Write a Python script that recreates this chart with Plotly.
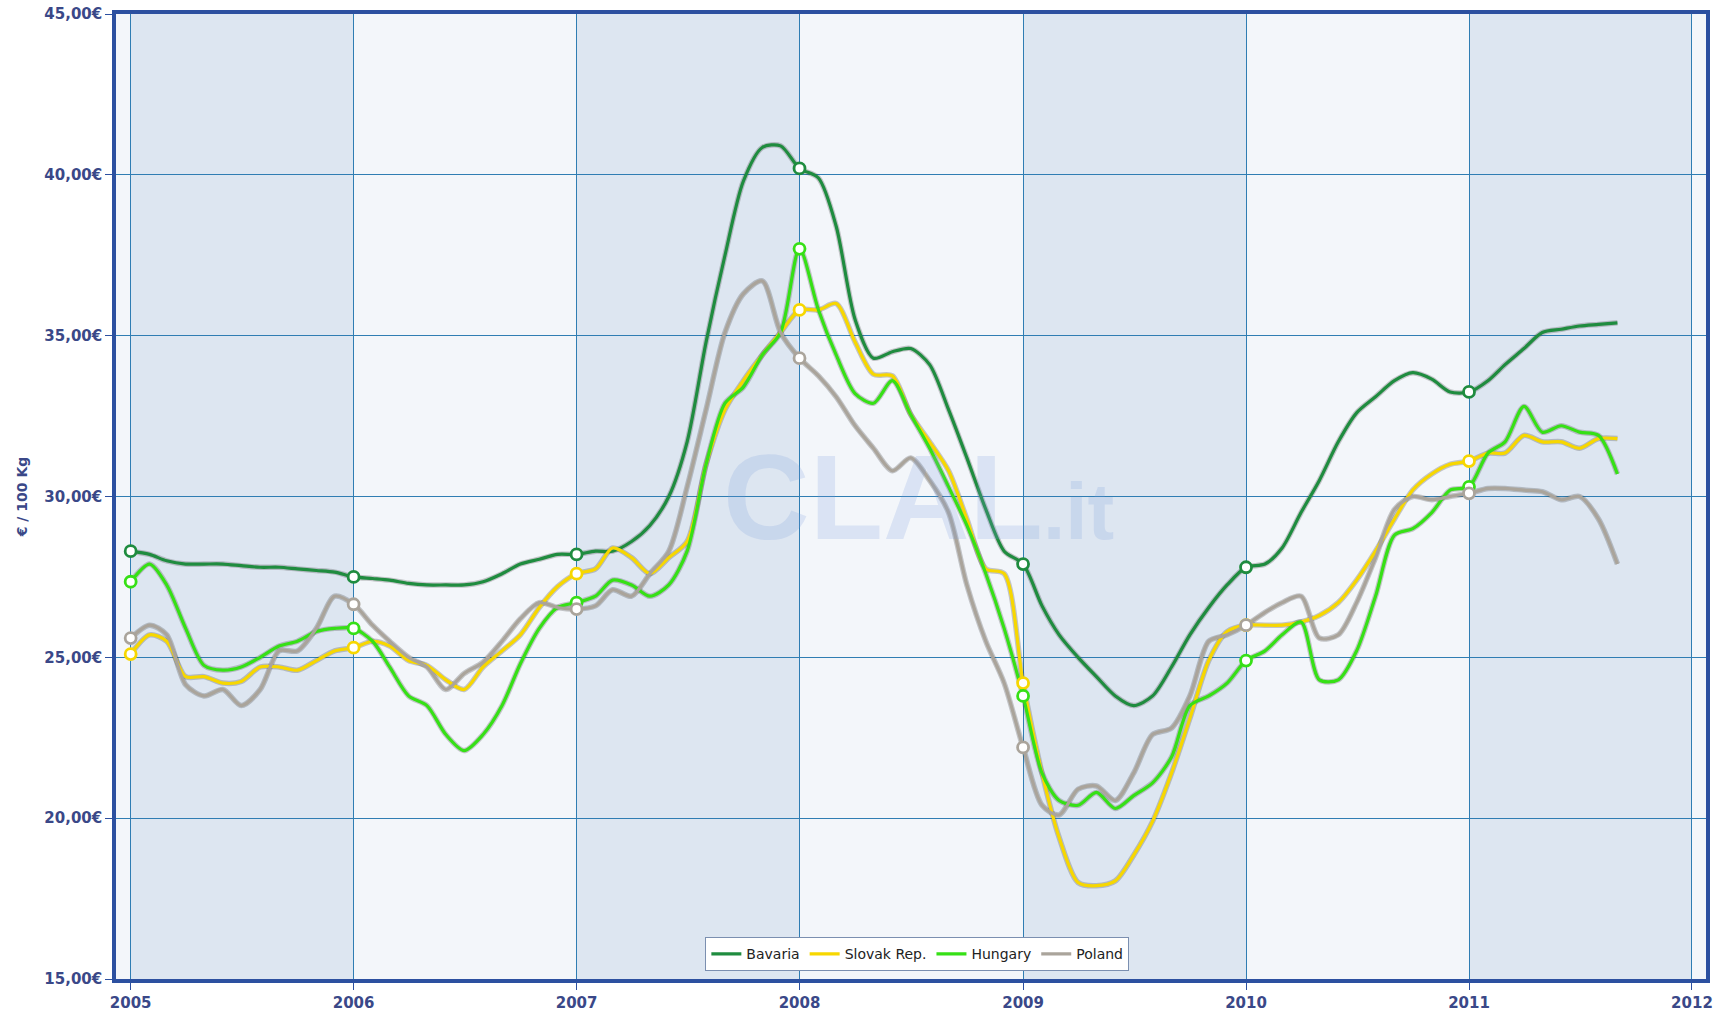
import pandas as pd
import plotly.graph_objects as go

# ---------------- data (monthly, Jan 2005 - Sep 2011) ----------------
series_names = ["Bavaria", "Slovak Rep.", "Hungary", "Poland"]

bavaria = [
    28.3, 28.2, 28.0, 27.9, 27.9, 27.9, 27.85, 27.8, 27.8, 27.75, 27.7, 27.65,
    27.5, 27.45, 27.4, 27.3, 27.25, 27.25, 27.25, 27.35, 27.6, 27.9, 28.05, 28.2,
    28.2, 28.3, 28.3, 28.6, 29.1, 30.0, 31.7, 34.8, 37.5, 39.8, 40.85, 40.9,
    40.2, 39.9, 38.4, 35.5, 34.3, 34.5, 34.6, 34.1, 32.7, 31.2, 29.6, 28.3,
    27.9, 26.6, 25.7, 25.0, 24.4, 23.8, 23.5, 23.8, 24.7, 25.7, 26.55, 27.25,
    27.8, 27.9, 28.4, 29.5, 30.5, 31.7, 32.6, 33.1, 33.6, 33.85, 33.65, 33.25,
    33.25, 33.6, 34.1, 34.6, 35.1, 35.2, 35.3, 35.35, 35.4,
]
slovak = [
    25.1, 25.7, 25.5, 24.4, 24.4, 24.2, 24.25, 24.7, 24.7, 24.6, 24.9, 25.2,
    25.3, 25.5, 25.35, 24.9, 24.75, 24.3, 24.0, 24.7, 25.2, 25.7, 26.55, 27.2,
    27.6, 27.75, 28.4, 28.1, 27.6, 28.1, 28.6, 31.0, 32.7, 33.6, 34.4, 35.1,
    35.8, 35.8, 36.0, 34.8, 33.8, 33.75, 32.55, 31.7, 30.8, 29.3, 27.75, 27.6,
    24.2, 21.4, 19.4, 18.0, 17.9, 18.05, 18.85, 19.9, 21.4, 23.1, 24.9, 25.8,
    26.0, 26.0, 26.0, 26.1, 26.3, 26.7, 27.4, 28.3, 29.3, 30.2, 30.7, 31.0,
    31.1, 31.35, 31.35, 31.9, 31.7, 31.7, 31.5, 31.8, 31.8,
]
hungary = [
    27.35, 27.9, 27.25, 25.9, 24.75, 24.6, 24.7, 25.0, 25.35, 25.5, 25.8, 25.9,
    25.9, 25.5, 24.7, 23.8, 23.5, 22.6, 22.1, 22.6, 23.5, 24.8, 25.9, 26.55,
    26.7, 26.9, 27.4, 27.25, 26.9, 27.25, 28.3, 31.0, 32.9, 33.4, 34.4, 35.1,
    37.7, 35.8, 34.4, 33.2, 32.9, 33.6, 32.55, 31.5, 30.3, 29.1, 27.6, 25.9,
    23.8, 21.4, 20.55, 20.4, 20.8, 20.3, 20.7, 21.1, 21.9, 23.5, 23.8, 24.2,
    24.9, 25.2, 25.7, 26.1, 24.3, 24.3, 25.2, 26.9, 28.8, 29.0, 29.5, 30.2,
    30.3, 31.35, 31.7, 32.8, 32.0, 32.2, 32.0, 31.9, 30.7,
]
poland = [
    25.6, 26.0, 25.7, 24.15, 23.8, 24.0, 23.5, 24.0, 25.2, 25.2, 25.9, 26.9,
    26.65, 26.0, 25.5, 25.0, 24.7, 24.0, 24.5, 24.85, 25.5, 26.2, 26.7, 26.55,
    26.5, 26.6, 27.1, 26.9, 27.6, 28.3, 30.3, 32.7, 35.1, 36.3, 36.7, 35.1,
    34.3, 33.75, 33.1, 32.2, 31.5, 30.8, 31.2, 30.5, 29.5, 27.25, 25.5, 24.2,
    22.2, 20.4, 20.1, 20.9, 21.0, 20.55, 21.4, 22.6, 22.8, 23.8, 25.5, 25.7,
    26.0, 26.4, 26.7, 26.9, 25.6, 25.7, 26.7, 28.1, 29.6, 30.0, 29.9, 30.0,
    30.1, 30.25, 30.25, 30.2, 30.15, 29.9, 30.0, 29.3, 27.9,
]

x_years = [2005, 2006, 2007, 2008, 2009, 2010, 2011, 2012]
y_ticks = [15, 20, 25, 30, 35, 40, 45]
y_tick_labels = ["15,00€", "20,00€", "25,00€", "30,00€", "35,00€", "40,00€", "45,00€"]

colors = ["#1f8c3f", "#f7d700", "#36e016", "#aaa49b"]
values = [bavaria, slovak, hungary, poland]

months = pd.date_range("2005-01-01", periods=len(bavaria), freq="MS")

fig = go.Figure()

AXIS_BLUE = "#2c50a0"
GRID = "#2f7db3"
TEXT_BLUE = "#3a4888"

# alternating year bands
for i in range(len(x_years) - 1):
    fill = "#dde6f1" if i % 2 == 0 else "#f3f6fa"
    fig.add_shape(type="rect", xref="x", yref="paper",
                  x0=f"{x_years[i]}-01-01", x1=f"{x_years[i+1]}-01-01",
                  y0=0, y1=1, fillcolor=fill, line_width=0, layer="below")

# line shadows
for vals in values:
    fig.add_trace(go.Scatter(x=months, y=vals, mode="lines",
                             line=dict(color="rgba(70,70,70,0.28)", width=5.5,
                                       shape="spline", smoothing=0.8),
                             hoverinfo="skip", showlegend=False))

# main lines
for name, vals, col in zip(series_names, values, colors):
    fig.add_trace(go.Scatter(x=months, y=vals, mode="lines", name=name,
                             line=dict(color=col, width=3.2,
                                       shape="spline", smoothing=0.8)))

# yearly markers (January values)
for name, vals, col in zip(series_names, values, colors):
    fig.add_trace(go.Scatter(x=months[::12], y=vals[::12], mode="markers",
                             marker=dict(symbol="circle", size=11, color="white",
                                         line=dict(color=col, width=2.8)),
                             showlegend=False, hoverinfo="skip"))

# watermark
fig.add_annotation(text="<b>CLAL</b><span style='font-size:80px'><b>.it</b></span>",
                   xref="paper", yref="paper", x=0.505, y=0.5,
                   showarrow=False,
                   font=dict(family="Liberation Sans", size=120,
                             color="rgba(120,155,220,0.20)"))

fig.update_layout(
    width=1733, height=1013,
    margin=dict(l=116, r=27, t=14, b=34),
    paper_bgcolor="white",
    plot_bgcolor="#f3f6fa",
    showlegend=True,
    legend=dict(orientation="h", x=0.504, xanchor="center", y=0.008, yanchor="bottom",
                bgcolor="white", bordercolor="#7b8fb0", borderwidth=1,
                font=dict(family="DejaVu Sans", size=14, color="#222222"),
                itemwidth=30, tracegroupgap=0),
    xaxis=dict(
        type="date", automargin=False,
        range=["2004-12-08", "2012-01-24"],
        tickvals=[f"{y}-01-01" for y in x_years],
        ticktext=[str(y) for y in x_years],
        showgrid=True, gridcolor=GRID, gridwidth=1,
        showline=True, linecolor=AXIS_BLUE, linewidth=3.5, mirror=True,
        ticks="outside", ticklen=7, tickcolor=AXIS_BLUE, tickwidth=1,
        tickfont=dict(family="DejaVu Sans", size=15, color=TEXT_BLUE, weight="bold"),
        ticklabeloverflow="allow",
        zeroline=False,
    ),
    yaxis=dict(
        range=[15, 45], automargin=False,
        tickvals=y_ticks, ticktext=y_tick_labels,
        showgrid=True, gridcolor=GRID, gridwidth=1,
        showline=True, linecolor=AXIS_BLUE, linewidth=3.5, mirror=True,
        ticks="outside", ticklen=7, tickcolor=AXIS_BLUE, tickwidth=1,
        tickfont=dict(family="DejaVu Sans", size=15, color=TEXT_BLUE, weight="bold"),
        ticklabeloverflow="allow",
        title=dict(text="€ / 100 Kg", standoff=14,
                   font=dict(family="DejaVu Sans", size=14, color=TEXT_BLUE, weight="bold")),
        zeroline=False,
    ),
)

fig.write_html("out.html", config={"displayModeBar": False},
               post_script="document.body.style.margin='0';")
